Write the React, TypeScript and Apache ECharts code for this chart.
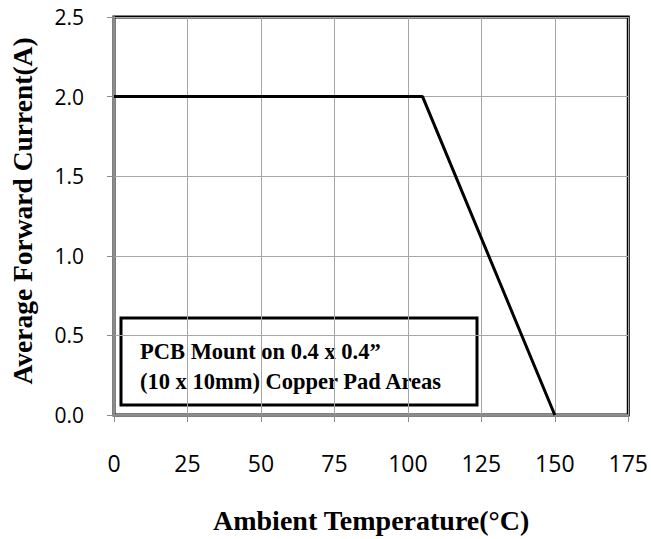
import React, { useEffect, useRef } from "react";
import * as echarts from "echarts";

const xTicks = [0, 25, 50, 75, 100, 125, 150, 175];
const yTicks = [0, 0.5, 1.0, 1.5, 2.0, 2.5];
const derating: [number, number][] = [
  [0, 2.0],
  [105, 2.0],
  [150, 0],
];
const noteLines = ["PCB Mount on 0.4 x 0.4”", "(10 x 10mm) Copper Pad Areas"];
const xTitle = "Ambient Temperature(°C)";
const yTitle = "Average Forward Current(A)";

export default function App() {
  const ref = useRef<HTMLDivElement>(null);
  useEffect(() => {
    if (!ref.current) return;
    const chart = echarts.init(ref.current, undefined, { renderer: "svg" });
    const serif = "'Liberation Serif', 'DejaVu Serif', serif";
    const sans = "'Open Sans', 'Noto Sans', sans-serif";
    chart.setOption({
      animation: false,
      backgroundColor: "#ffffff",
      grid: {
        left: 113,
        right: 22,
        top: 17,
        bottom: 124,
        show: true,
        borderColor: "#000000",
        borderWidth: 3,
        backgroundColor: "transparent",
      },
      xAxis: {
        type: "value",
        min: xTicks[0],
        max: xTicks[xTicks.length - 1],
        interval: 25,
        name: xTitle,
        nameLocation: "middle",
        nameGap: 91,
        nameTextStyle: { fontFamily: serif, fontWeight: "bold", fontSize: 28, color: "#000" },
        axisLine: { show: true, onZero: false, lineStyle: { color: "#8c8c8c", width: 2 } },
        axisTick: { show: true, length: 7, lineStyle: { color: "#8c8c8c", width: 1 } },
        axisLabel: { margin: 36, fontFamily: sans, fontSize: 23, color: "#000" },
        splitLine: { show: true, lineStyle: { color: "#a6a6a6", width: 1 } },
      },
      yAxis: {
        type: "value",
        min: yTicks[0],
        max: yTicks[yTicks.length - 1],
        interval: 0.5,
        name: yTitle,
        nameLocation: "middle",
        nameGap: 78,
        nameTextStyle: {
          fontFamily: serif,
          fontWeight: "bold",
          fontSize: 27.5,
          color: "#000",
          padding: [0, 0, 0, 10],
        },
        axisLine: { show: true, lineStyle: { color: "#8c8c8c", width: 2 } },
        axisTick: { show: true, length: 7, lineStyle: { color: "#8c8c8c", width: 1 } },
        axisLabel: {
          margin: 30,
          fontFamily: sans,
          fontSize: 21,
          color: "#000",
          formatter: (v: number) => v.toFixed(1),
        },
        splitLine: { show: true, lineStyle: { color: "#a6a6a6", width: 1 } },
      },
      series: [
        {
          type: "line",
          data: derating,
          symbol: "none",
          lineStyle: { color: "#000000", width: 3 },
          z: 3,
        },
      ],
      graphic: [
        {
          type: "group",
          z: 10,
          children: [
            {
              type: "rect",
              shape: { x: 121, y: 318, width: 356, height: 87 },
              style: { fill: "#ffffff", stroke: "#000000", lineWidth: 3 },
            },
            {
              type: "text",
              x: 140,
              y: 351,
              style: {
                text: noteLines[0],
                fontFamily: serif,
                fontWeight: "bold",
                fontSize: 22.5,
                fill: "#000",
                verticalAlign: "middle",
              },
            },
            {
              type: "text",
              x: 140,
              y: 381,
              style: {
                text: noteLines[1],
                fontFamily: serif,
                fontWeight: "bold",
                fontSize: 22.5,
                fill: "#000",
                verticalAlign: "middle",
              },
            },
          ],
        },
      ],
    });
    return () => chart.dispose();
  }, []);
  return (
    <div
      ref={ref}
      style={{ position: "fixed", left: 0, top: 0, width: 651, height: 539 }}
    />
  );
}
